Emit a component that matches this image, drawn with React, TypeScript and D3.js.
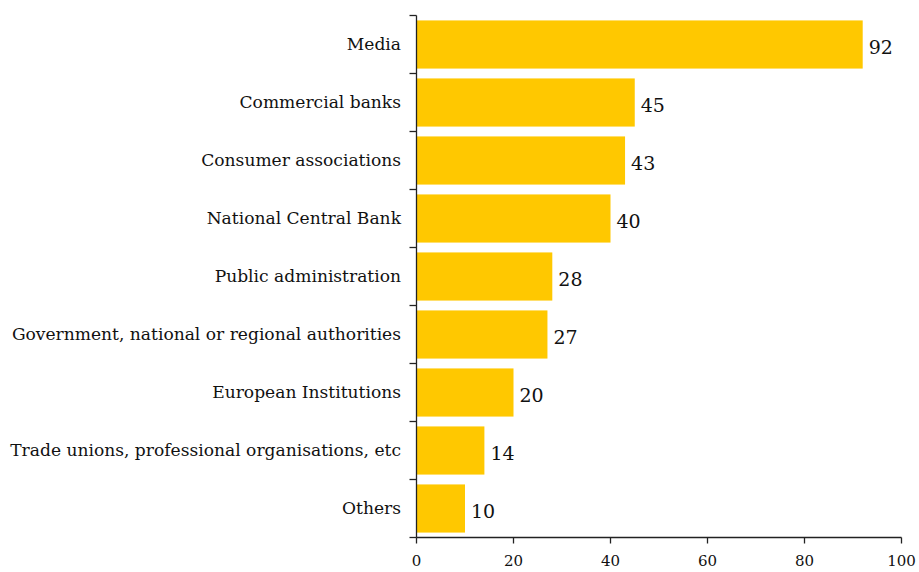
import React from "react";
import * as d3 from "d3";

const categories = [
  "Media",
  "Commercial banks",
  "Consumer associations",
  "National Central Bank",
  "Public administration",
  "Government, national or regional authorities",
  "European Institutions",
  "Trade unions, professional organisations, etc",
  "Others",
];
const values = [92, 45, 43, 40, 28, 27, 20, 14, 10];
const xTicks = [0, 20, 40, 60, 80, 100];

const W = 919;
const H = 572;
const FONT = "'DejaVu Serif', 'Liberation Serif', serif";

export default function App() {
  const x = d3.scaleLinear().domain([0, 100]).range([416.5, 901.5]);
  const y = d3.scaleBand<string>().domain(categories).range([15.5, 537.5]).paddingInner(0.17).paddingOuter(0.085);
  const step = y.step();
  const y0 = 15.5;
  const y1 = 537.5;
  const ax = 416.5;
  return (
    <svg width={W} height={H} style={{ position: "absolute", left: 0, top: 0, background: "#fff" }}>
      {categories.map((c, i) => (
        <rect key={c} x={x(0)} y={y(c)} width={x(values[i]) - x(0)} height={y.bandwidth()} fill="#FFC800" />
      ))}
      {/* y axis */}
      <line x1={ax} x2={ax} y1={y0} y2={y1} stroke="#222" strokeWidth={1.3} />
      {d3.range(categories.length + 1).map((i) => (
        <line key={i} x1={ax - 7} x2={ax} y1={y0 + i * step} y2={y0 + i * step} stroke="#222" strokeWidth={1.3} />
      ))}
      {/* x axis */}
      <line x1={ax} x2={x(100)} y1={y1} y2={y1} stroke="#222" strokeWidth={1.3} />
      {xTicks.map((t) => (
        <g key={t}>
          <line x1={x(t)} x2={x(t)} y1={y1} y2={y1 + 6} stroke="#222" strokeWidth={1.3} />
          <text x={x(t)} y={566} textAnchor="middle" fontFamily={FONT} fontSize={15} fill="#111">
            {t}
          </text>
        </g>
      ))}
      {categories.map((c, i) => (
        <text key={c} x={401} y={(y(c) as number) + y.bandwidth() / 2} dy="0.35em" textAnchor="end" fontFamily={FONT} fontSize={17.1} fill="#111">
          {c}
        </text>
      ))}
      {categories.map((c, i) => (
        <text key={c} x={x(values[i]) + 6} y={(y(c) as number) + y.bandwidth() / 2 + 3} dy="0.35em" textAnchor="start" fontFamily={FONT} fontSize={19} fill="#111">
          {values[i]}
        </text>
      ))}
    </svg>
  );
}
